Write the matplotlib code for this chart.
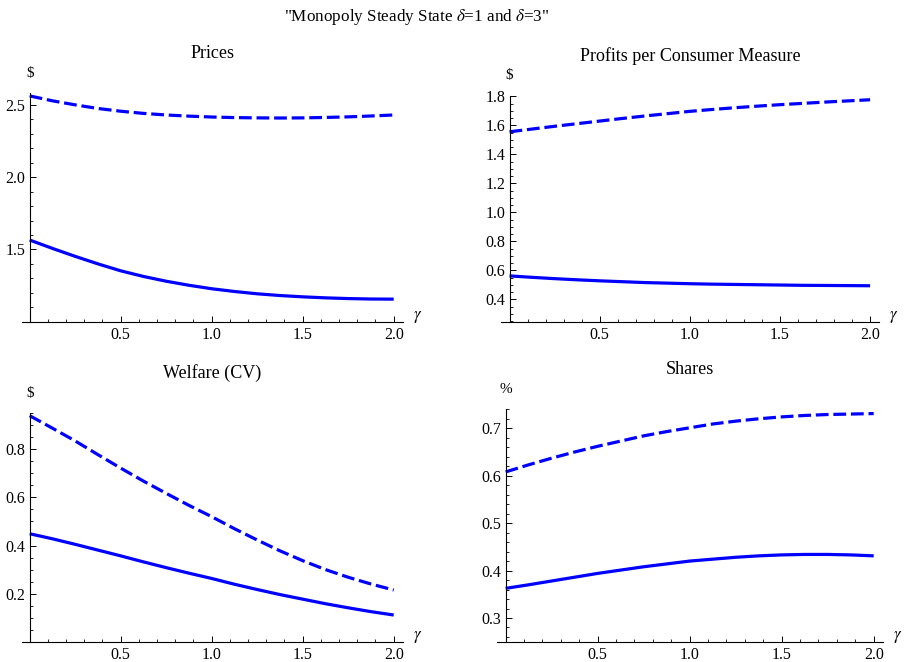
import matplotlib
matplotlib.use("Agg")
import matplotlib.pyplot as plt
from matplotlib.ticker import MultipleLocator, FixedLocator, FormatStrFormatter

plt.rcParams['font.family'] = ['Liberation Serif', 'DejaVu Serif']
plt.rcParams['mathtext.fontset'] = 'stix'

# ---- data ----
gamma = [0.0, 0.125, 0.25, 0.375, 0.5, 0.625, 0.75, 0.875, 1.0,
         1.125, 1.25, 1.375, 1.5, 1.625, 1.75, 1.875, 2.0]

prices_d1 = [1.565, 1.507, 1.452, 1.400, 1.352, 1.313, 1.280, 1.252, 1.228,
             1.209, 1.193, 1.181, 1.172, 1.165, 1.160, 1.157, 1.156]
prices_d3 = [2.562, 2.528, 2.500, 2.475, 2.456, 2.441, 2.430, 2.422, 2.416,
             2.412, 2.410, 2.409, 2.410, 2.413, 2.417, 2.423, 2.430]

profits_d1 = [0.562, 0.552, 0.543, 0.535, 0.528, 0.522, 0.516, 0.512, 0.508,
              0.505, 0.503, 0.501, 0.499, 0.497, 0.496, 0.495, 0.494]
profits_d3 = [1.556, 1.575, 1.594, 1.612, 1.630, 1.648, 1.665, 1.681, 1.697,
              1.710, 1.722, 1.733, 1.743, 1.752, 1.761, 1.769, 1.777]

welfare_d1 = [0.449, 0.428, 0.405, 0.381, 0.357, 0.332, 0.308, 0.285, 0.263,
              0.239, 0.217, 0.196, 0.177, 0.158, 0.141, 0.125, 0.111]
welfare_d3 = [0.940, 0.888, 0.835, 0.778, 0.722, 0.668, 0.617, 0.567, 0.520,
              0.470, 0.423, 0.378, 0.337, 0.300, 0.268, 0.240, 0.215]

shares_d1 = [0.3625, 0.370, 0.378, 0.386, 0.394, 0.401, 0.408, 0.414, 0.420,
             0.424, 0.428, 0.431, 0.433, 0.434, 0.434, 0.433, 0.431]
shares_d3 = [0.608, 0.623, 0.637, 0.650, 0.662, 0.673, 0.684, 0.693, 0.701,
             0.709, 0.715, 0.720, 0.724, 0.727, 0.729, 0.730, 0.731]

titles = ["Prices", "Profits per Consumer Measure", "Welfare (CV)", "Shares"]
units = ["$", "$", "$", "%"]
x_ticks = [0.5, 1.0, 1.5, 2.0]
y_ticks = [[1.5, 2.0, 2.5],
           [0.4, 0.6, 0.8, 1.0, 1.2, 1.4, 1.6, 1.8],
           [0.2, 0.4, 0.6, 0.8],
           [0.3, 0.4, 0.5, 0.6, 0.7]]
y_minor = [0.1, 0.05, 0.05, 0.02]
y_lims = [(1.0, 2.58), (0.246, 1.805), (0.0, 0.95), (0.25, 0.74)]
series = [(prices_d1, prices_d3), (profits_d1, profits_d3),
          (welfare_d1, welfare_d3), (shares_d1, shares_d3)]

W, H = 907, 662
fig = plt.figure(figsize=(W / 100, H / 100), dpi=100)

# axes boxes in pixels: left, right, top, bottom
boxes = [(21.5, 402.8, 93.3, 321.7),
         (501.4, 879.1, 95.7, 321.7),
         (21.5, 402.8, 413.3, 641.7),
         (497.4, 882.9, 409.3, 641.7)]

blue = (0, 0, 1)
for i in range(4):
    l, r, t, b = boxes[i]
    ax = fig.add_axes([l / W, 1 - b / H, (r - l) / W, (b - t) / H])
    ax.set_xlim(-0.045, 2.05)
    ax.set_ylim(*y_lims[i])
    d1, d3 = series[i]
    ax.plot(gamma, d1, color=blue, lw=2.3, solid_capstyle='butt',
            solid_joinstyle='round')
    ax.plot(gamma, d3, color=blue, lw=2.3, linestyle=(0, (4.0, 1.5)),
            dash_capstyle='butt', dash_joinstyle='round')
    for s in ['top', 'right']:
        ax.spines[s].set_visible(False)
    ax.spines['left'].set_position(('data', 0))
    for s in ['left', 'bottom']:
        ax.spines[s].set_linewidth(0.8)
    ax.xaxis.set_major_locator(FixedLocator(x_ticks))
    ax.xaxis.set_minor_locator(MultipleLocator(0.1))
    ax.xaxis.set_major_formatter(FormatStrFormatter('%.1f'))
    ax.yaxis.set_major_locator(FixedLocator(y_ticks[i]))
    ax.yaxis.set_minor_locator(MultipleLocator(y_minor[i]))
    ax.yaxis.set_major_formatter(FormatStrFormatter('%.1f'))
    ax.tick_params(which='major', direction='in', length=4, width=0.7,
                   labelsize=11.5, pad=4)
    ax.tick_params(which='minor', direction='in', length=2.3, width=0.6)
    ax.tick_params(axis='y', pad=3)
    ax.patch.set_visible(False)
    # unit label above y axis
    ax.annotate(units[i], xy=(0, 1), xycoords=('data', 'axes fraction'),
                xytext=(0, 20), textcoords='offset pixels',
                ha='center', va='center', fontsize=11)
    # gamma label
    ax.annotate(r'$\gamma$', xy=(1, 0), xycoords='axes fraction',
                xytext=(15, 5), textcoords='offset pixels',
                ha='center', va='center', fontsize=12)
    # title
    fig.text((l + r) / 2 / W, 1 - (t - 40) / H, titles[i],
             ha='center', va='center', fontsize=13)

fig.text(417 / W, 1 - 17 / H,
         '"Monopoly Steady State $\\delta$=1 and $\\delta$=3"',
         ha='center', va='center', fontsize=12.3)

fig.savefig("out.png", dpi=100)
